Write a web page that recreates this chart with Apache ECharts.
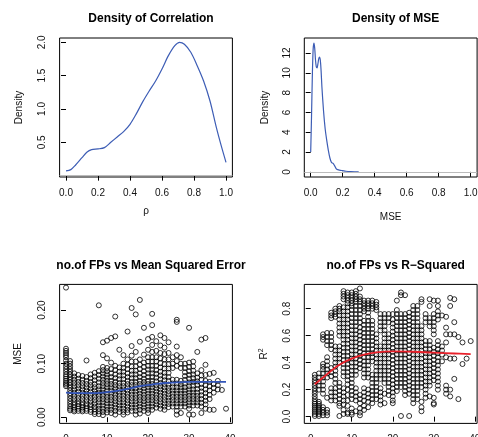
<!DOCTYPE html>
<html>
<head>
<meta charset="utf-8">
<script src="https://cdn.jsdelivr.net/npm/echarts@6/dist/echarts.min.js"></script>
<style>
html,body{margin:0;padding:0;background:#fff;}
#c{width:478px;height:437px;}
</style>
</head>
<body>
<div id="c"></div>
<script>
// ---------- DATA ----------
// Density of correlation (rho)
const rhoX = [0, 0.03, 0.06, 0.1, 0.13, 0.16, 0.2, 0.24, 0.28, 0.32, 0.36, 0.4, 0.44, 0.48, 0.52, 0.56, 0.6, 0.64, 0.68, 0.71, 0.74, 0.78, 0.82, 0.86, 0.9, 0.94, 0.97, 1.0];
const rhoDensity = [0.07, 0.09, 0.16, 0.27, 0.35, 0.39, 0.40, 0.42, 0.50, 0.58, 0.66, 0.77, 0.93, 1.11, 1.27, 1.42, 1.60, 1.80, 1.95, 2.0, 1.97, 1.85, 1.65, 1.42, 1.12, 0.72, 0.45, 0.2];

// Density of MSE
const mseX = [0, 0.005, 0.01, 0.015, 0.02, 0.025, 0.03, 0.035, 0.04, 0.045, 0.05, 0.055, 0.06, 0.065, 0.07, 0.08, 0.09, 0.1, 0.11, 0.12, 0.13, 0.14, 0.15, 0.16, 0.17, 0.18, 0.2, 0.22, 0.25, 0.28, 0.3];
const mseDensity = [2.0, 5.5, 9.5, 12.3, 13.0, 12.5, 11.3, 10.6, 10.5, 10.9, 11.4, 11.6, 11.3, 10.2, 8.6, 6.2, 4.4, 3.2, 2.2, 1.4, 0.95, 0.85, 0.6, 0.3, 0.22, 0.18, 0.12, 0.06, 0.02, 0.005, 0];

// MSE values for each number of FPs (index = no. of FPs)
const mseByFP = [
  [0.242, 0.128, 0.124, 0.120, 0.116, 0.112, 0.106, 0.100, 0.095, 0.090, 0.085, 0.080, 0.076, 0.072, 0.068, 0.064, 0.061, 0.058],
  [0.105, 0.100, 0.095, 0.090, 0.085, 0.080, 0.075, 0.070, 0.065, 0.060, 0.055, 0.050, 0.045, 0.040, 0.035, 0.030, 0.025, 0.020, 0.016, 0.013],
  [0.082, 0.076, 0.070, 0.064, 0.058, 0.052, 0.046, 0.040, 0.034, 0.028, 0.023, 0.018, 0.014, 0.011],
  [0.079, 0.072, 0.066, 0.060, 0.054, 0.048, 0.042, 0.036, 0.030, 0.025, 0.020, 0.016, 0.012],
  [0.077, 0.070, 0.064, 0.058, 0.052, 0.046, 0.040, 0.034, 0.028, 0.023, 0.018, 0.014, 0.011],
  [0.106, 0.075, 0.068, 0.062, 0.056, 0.050, 0.044, 0.038, 0.032, 0.026, 0.021, 0.016, 0.012],
  [0.080, 0.073, 0.066, 0.060, 0.054, 0.048, 0.042, 0.036, 0.030, 0.024, 0.019, 0.014, 0.010],
  [0.083, 0.076, 0.069, 0.062, 0.056, 0.050, 0.044, 0.038, 0.032, 0.026, 0.020, 0.015, 0.010, 0.006],
  [0.209, 0.086, 0.079, 0.072, 0.065, 0.058, 0.052, 0.046, 0.040, 0.034, 0.028, 0.022, 0.016, 0.011, 0.006],
  [0.140, 0.116, 0.094, 0.088, 0.082, 0.076, 0.070, 0.064, 0.058, 0.052, 0.046, 0.040, 0.034, 0.028, 0.022, 0.016, 0.010, 0.004],
  [0.143, 0.110, 0.092, 0.086, 0.080, 0.074, 0.068, 0.062, 0.056, 0.050, 0.044, 0.038, 0.032, 0.026, 0.020, 0.014, 0.009],
  [0.148, 0.102, 0.090, 0.082, 0.075, 0.068, 0.062, 0.056, 0.050, 0.044, 0.038, 0.032, 0.026, 0.020, 0.014, 0.008],
  [0.188, 0.151, 0.096, 0.088, 0.080, 0.073, 0.066, 0.060, 0.054, 0.048, 0.042, 0.036, 0.030, 0.024, 0.018, 0.012, 0.005],
  [0.126, 0.093, 0.085, 0.078, 0.071, 0.064, 0.058, 0.052, 0.046, 0.040, 0.034, 0.028, 0.022, 0.016, 0.010],
  [0.116, 0.100, 0.092, 0.085, 0.078, 0.071, 0.064, 0.058, 0.052, 0.046, 0.040, 0.034, 0.028, 0.022, 0.016, 0.010, 0.005],
  [0.160, 0.108, 0.098, 0.090, 0.082, 0.075, 0.068, 0.062, 0.056, 0.050, 0.044, 0.038, 0.032, 0.026, 0.020, 0.014, 0.009],
  [0.204, 0.133, 0.115, 0.104, 0.095, 0.087, 0.080, 0.073, 0.066, 0.060, 0.054, 0.048, 0.042, 0.036, 0.030, 0.024, 0.018, 0.012],
  [0.192, 0.122, 0.104, 0.095, 0.087, 0.080, 0.073, 0.066, 0.060, 0.054, 0.048, 0.042, 0.036, 0.030, 0.024, 0.018, 0.012, 0.005],
  [0.219, 0.141, 0.108, 0.098, 0.090, 0.082, 0.075, 0.068, 0.062, 0.056, 0.050, 0.044, 0.038, 0.032, 0.026, 0.020, 0.014, 0.007],
  [0.167, 0.117, 0.102, 0.094, 0.086, 0.079, 0.072, 0.066, 0.060, 0.054, 0.048, 0.042, 0.036, 0.030, 0.024, 0.018, 0.012],
  [0.146, 0.126, 0.112, 0.104, 0.096, 0.089, 0.082, 0.075, 0.068, 0.062, 0.056, 0.050, 0.044, 0.038, 0.032, 0.026, 0.020, 0.014, 0.008],
  [0.193, 0.172, 0.150, 0.135, 0.122, 0.112, 0.104, 0.096, 0.089, 0.082, 0.075, 0.068, 0.062, 0.056, 0.050, 0.044, 0.038, 0.032, 0.026, 0.020, 0.014],
  [0.142, 0.124, 0.112, 0.104, 0.096, 0.088, 0.081, 0.074, 0.067, 0.060, 0.054, 0.048, 0.042, 0.036, 0.030, 0.024, 0.018],
  [0.153, 0.134, 0.120, 0.110, 0.101, 0.093, 0.085, 0.078, 0.071, 0.064, 0.058, 0.052, 0.046, 0.040, 0.034, 0.028, 0.022, 0.016],
  [0.148, 0.130, 0.118, 0.108, 0.099, 0.091, 0.083, 0.076, 0.069, 0.062, 0.056, 0.050, 0.044, 0.038, 0.032, 0.026, 0.020, 0.014],
  [0.140, 0.120, 0.108, 0.099, 0.091, 0.083, 0.075, 0.068, 0.061, 0.055, 0.049, 0.043, 0.037, 0.031, 0.025, 0.019],
  [0.112, 0.100, 0.092, 0.070, 0.063, 0.056, 0.050, 0.044, 0.038, 0.032, 0.026, 0.020],
  [0.182, 0.178, 0.132, 0.116, 0.105, 0.096, 0.070, 0.063, 0.056, 0.050, 0.044, 0.038, 0.032, 0.026, 0.020, 0.012, 0.005],
  [0.112, 0.100, 0.092, 0.068, 0.062, 0.056, 0.050, 0.044, 0.038, 0.032, 0.026, 0.020, 0.008],
  [0.100, 0.092, 0.084, 0.077, 0.070, 0.063, 0.056, 0.050, 0.044, 0.038, 0.032, 0.026, 0.020],
  [0.167, 0.102, 0.094, 0.086, 0.079, 0.072, 0.065, 0.058, 0.052, 0.046, 0.040, 0.034, 0.028, 0.022, 0.016, 0.005],
  [0.104, 0.095, 0.087, 0.080, 0.073, 0.066, 0.059, 0.052, 0.046, 0.040, 0.034, 0.028, 0.022, 0.005],
  [0.122, 0.082, 0.074, 0.067, 0.060, 0.053, 0.046, 0.040, 0.034, 0.028, 0.022],
  [0.145, 0.088, 0.078, 0.070, 0.062, 0.055, 0.048, 0.041, 0.034, 0.027, 0.020, 0.008],
  [0.148, 0.098, 0.079, 0.068, 0.060, 0.052, 0.045, 0.038, 0.031, 0.024, 0.016],
  [0.081, 0.066, 0.058, 0.050, 0.042, 0.034, 0.014],
  [0.083, 0.062, 0.055, 0.046, 0.014],
  [0.068, 0.060, 0.052],
  [0.051],
  [0.016]
];

// R-squared values for each number of FPs (index = no. of FPs)
const r2ByFP = [
  [],
  [0.31, 0.29, 0.27, 0.25, 0.23, 0.21, 0.19, 0.17, 0.15, 0.13, 0.11, 0.095, 0.08, 0.065, 0.05, 0.035, 0.02, 0.005],
  [0.32, 0.29, 0.26, 0.23, 0.20, 0.11, 0.095, 0.08, 0.065, 0.05, 0.035, 0.02, 0.005],
  [0.61, 0.59, 0.57, 0.39, 0.37, 0.35, 0.32, 0.29, 0.26, 0.23, 0.20, 0.17, 0.07, 0.05, 0.03, 0.01],
  [0.62, 0.59, 0.56, 0.53, 0.44, 0.41, 0.38, 0.35, 0.32, 0.29, 0.14, 0.05, 0.03, 0.01],
  [0.77, 0.75, 0.73, 0.62, 0.59, 0.56, 0.53, 0.50, 0.36, 0.33, 0.30, 0.21, 0.18, 0.15, 0.12],
  [0.80, 0.78, 0.76, 0.74, 0.52, 0.49, 0.46, 0.43, 0.40, 0.37, 0.34, 0.31, 0.28, 0.25, 0.21, 0.18, 0.15, 0.12],
  [0.82, 0.80, 0.78, 0.75, 0.72, 0.69, 0.66, 0.63, 0.60, 0.52, 0.49, 0.46, 0.43, 0.40, 0.25, 0.22, 0.19, 0.16, 0.13, 0.10, 0.08, 0.005],
  [0.93, 0.91, 0.89, 0.87, 0.81, 0.78, 0.75, 0.72, 0.69, 0.66, 0.63, 0.60, 0.57, 0.54, 0.51, 0.48, 0.45, 0.42, 0.39, 0.36, 0.33, 0.30, 0.21, 0.18, 0.15, 0.12, 0.09, 0.05, 0.02],
  [0.92, 0.90, 0.88, 0.86, 0.84, 0.81, 0.78, 0.75, 0.72, 0.69, 0.66, 0.63, 0.60, 0.57, 0.54, 0.51, 0.48, 0.45, 0.42, 0.39, 0.36, 0.33, 0.30, 0.27, 0.24, 0.20, 0.16, 0.12, 0.08, 0.03, 0.02],
  [0.92, 0.90, 0.88, 0.86, 0.84, 0.82, 0.79, 0.76, 0.73, 0.70, 0.67, 0.64, 0.61, 0.58, 0.55, 0.52, 0.49, 0.46, 0.43, 0.40, 0.37, 0.34, 0.31, 0.28, 0.25, 0.22, 0.19, 0.16, 0.13, 0.06, 0.03, 0.015],
  [0.93, 0.91, 0.89, 0.87, 0.85, 0.82, 0.79, 0.76, 0.73, 0.70, 0.67, 0.64, 0.61, 0.58, 0.55, 0.52, 0.49, 0.46, 0.43, 0.40, 0.37, 0.34, 0.31, 0.21, 0.18, 0.15, 0.12, 0.04],
  [0.95, 0.89, 0.87, 0.85, 0.82, 0.79, 0.76, 0.73, 0.70, 0.66, 0.63, 0.60, 0.57, 0.54, 0.51, 0.48, 0.45, 0.42, 0.39, 0.36, 0.16, 0.13, 0.10, 0.06, 0.03, 0.01],
  [0.86, 0.84, 0.82, 0.80, 0.78, 0.71, 0.68, 0.65, 0.62, 0.59, 0.56, 0.53, 0.50, 0.47, 0.44, 0.41, 0.38, 0.35, 0.32, 0.29, 0.21, 0.18, 0.15, 0.12, 0.08, 0.05],
  [0.86, 0.84, 0.82, 0.80, 0.77, 0.74, 0.71, 0.68, 0.65, 0.62, 0.59, 0.56, 0.53, 0.50, 0.47, 0.44, 0.41, 0.38, 0.35, 0.32, 0.29, 0.20, 0.17, 0.14, 0.11, 0.07],
  [0.86, 0.84, 0.82, 0.80, 0.71, 0.68, 0.65, 0.62, 0.59, 0.56, 0.53, 0.50, 0.47, 0.44, 0.41, 0.31, 0.28, 0.25, 0.22, 0.19, 0.16, 0.13, 0.10],
  [0.85, 0.83, 0.81, 0.79, 0.61, 0.58, 0.55, 0.52, 0.49, 0.46, 0.43, 0.40, 0.37, 0.34, 0.31, 0.28, 0.25, 0.22, 0.19, 0.16, 0.13],
  [0.76, 0.73, 0.70, 0.67, 0.64, 0.52, 0.49, 0.46, 0.43, 0.40, 0.37, 0.34, 0.31, 0.28, 0.21, 0.18, 0.15, 0.12, 0.09],
  [0.76, 0.73, 0.70, 0.67, 0.64, 0.61, 0.58, 0.55, 0.52, 0.49, 0.46, 0.43, 0.40, 0.37, 0.34, 0.31, 0.28, 0.25, 0.17, 0.10],
  [0.76, 0.73, 0.70, 0.61, 0.58, 0.55, 0.52, 0.49, 0.46, 0.43, 0.40, 0.37, 0.34, 0.31, 0.28, 0.25, 0.22, 0.19, 0.16],
  [0.76, 0.72, 0.69, 0.66, 0.63, 0.60, 0.57, 0.54, 0.51, 0.48, 0.45, 0.42, 0.39, 0.36, 0.33, 0.30, 0.27, 0.24, 0.21, 0.18, 0.15, 0.12, 0.10],
  [0.86, 0.79, 0.76, 0.73, 0.70, 0.67, 0.64, 0.61, 0.58, 0.55, 0.52, 0.49, 0.46, 0.43, 0.40, 0.37, 0.34, 0.31, 0.28, 0.25, 0.22, 0.19],
  [0.92, 0.90, 0.76, 0.73, 0.70, 0.67, 0.64, 0.61, 0.58, 0.55, 0.52, 0.49, 0.46, 0.43, 0.40, 0.37, 0.34, 0.31, 0.28, 0.25, 0.22, 0.005],
  [0.90, 0.76, 0.73, 0.70, 0.67, 0.64, 0.61, 0.58, 0.55, 0.52, 0.49, 0.46, 0.43, 0.40, 0.37, 0.34, 0.31, 0.28, 0.25, 0.22, 0.19, 0.16],
  [0.77, 0.74, 0.71, 0.68, 0.65, 0.62, 0.59, 0.56, 0.53, 0.50, 0.47, 0.44, 0.41, 0.38, 0.35, 0.32, 0.29, 0.26, 0.23, 0.20, 0.17, 0.005],
  [0.82, 0.79, 0.76, 0.73, 0.70, 0.67, 0.64, 0.61, 0.58, 0.55, 0.52, 0.49, 0.46, 0.43, 0.40, 0.37, 0.34, 0.31, 0.28, 0.25, 0.22, 0.19, 0.16, 0.13, 0.10],
  [0.82, 0.79, 0.76, 0.73, 0.70, 0.67, 0.64, 0.61, 0.58, 0.55, 0.52, 0.49, 0.46, 0.43, 0.40, 0.37, 0.34, 0.31, 0.28, 0.25, 0.22, 0.19, 0.16, 0.13],
  [0.87, 0.85, 0.67, 0.64, 0.61, 0.58, 0.55, 0.52, 0.49, 0.46, 0.43, 0.40, 0.37, 0.34, 0.31, 0.28, 0.25, 0.22, 0.11, 0.07, 0.04],
  [0.76, 0.73, 0.70, 0.56, 0.53, 0.50, 0.47, 0.44, 0.41, 0.38, 0.35, 0.32, 0.29, 0.26, 0.23, 0.20, 0.17, 0.14],
  [0.87, 0.82, 0.73, 0.70, 0.67, 0.56, 0.53, 0.50, 0.47, 0.44, 0.41, 0.38, 0.35, 0.32, 0.29, 0.26, 0.23, 0.15],
  [0.86, 0.76, 0.73, 0.70, 0.67, 0.64, 0.61, 0.51, 0.48, 0.45, 0.42, 0.39, 0.36, 0.33, 0.30, 0.27, 0.14, 0.10, 0.09],
  [0.86, 0.82, 0.78, 0.75, 0.72, 0.56, 0.53, 0.50, 0.47, 0.44, 0.41, 0.38, 0.35, 0.32, 0.29, 0.26, 0.23, 0.20],
  [0.75, 0.52, 0.49, 0.46, 0.41],
  [0.74, 0.66, 0.61, 0.55, 0.44, 0.23, 0.20, 0.17],
  [0.88, 0.82, 0.61, 0.43, 0.20, 0.15],
  [0.87, 0.70, 0.61, 0.43, 0.28],
  [0.59, 0.13],
  [0.55, 0.39],
  [0.43],
  [0.56]
];

// Smoothed fits
const mseFitX = [0, 3, 6, 9, 12, 15, 18, 21, 24, 27, 30, 33, 36, 39];
const mseFitY = [0.046, 0.045, 0.045, 0.046, 0.049, 0.053, 0.058, 0.061, 0.064, 0.065, 0.066, 0.066, 0.066, 0.066];
const r2FitX = [1, 3, 5, 7, 10, 13, 16, 20, 25, 30, 35, 39];
const r2FitY = [0.24, 0.29, 0.34, 0.385, 0.43, 0.46, 0.476, 0.484, 0.481, 0.474, 0.468, 0.464];

// Tick values
const unitTicks = [0, 0.2, 0.4, 0.6, 0.8, 1.0];
const rhoDensityTicks = [0.5, 1.0, 1.5, 2.0];
const mseDensityTicks = [0, 2, 4, 6, 8, 10, 12];
const fpTicks = [0, 10, 20, 30, 40];
const mseScatterTicks = [0, 0.1, 0.2];
const r2Ticks = [0, 0.2, 0.4, 0.6, 0.8];

// ---------- CHART ----------
const FONT = '"Liberation Sans", Arial, Helvetica, sans-serif';
const chart = echarts.init(document.getElementById('c'), null, {renderer: 'canvas'});

const zip = (xs, ys) => xs.map((x, i) => [x, ys[i]]);
const columnsToPoints = cols => {
  const out = [];
  cols.forEach((ys, k) => ys.forEach(y => out.push([k, y])));
  return out;
};

const grids = [
  {left: 59.6, top: 38, width: 172.8, height: 139},
  {left: 304.3, top: 38, width: 172.8, height: 139},
  {left: 59.6, top: 284.4, width: 172.8, height: 139},
  {left: 304.3, top: 284.4, width: 172.8, height: 139}
].map(g => Object.assign(g, {show: true, borderColor: '#000', borderWidth: 1, backgroundColor: 'transparent', containLabel: false, outerBoundsMode: 'none'}));

function xAxis(gi, min, max, ticks, fmt, name, nameGap) {
  return {
    type: 'value', gridIndex: gi, min, max,
    axisLine: {show: false},
    splitLine: {show: false},
    axisTick: {show: true, inside: false, length: 5, customValues: ticks, lineStyle: {color: '#000', width: 1}},
    axisLabel: {show: true, customValues: ticks, formatter: fmt, margin: 11, color: '#111', fontFamily: FONT, fontSize: 10, showMinLabel: true, showMaxLabel: true},
    name, nameLocation: 'middle', nameGap,
    nameTextStyle: {color: '#111', fontFamily: FONT, fontSize: 10}
  };
}
function yAxis(gi, min, max, ticks, fmt, name, nameGap, rich) {
  const a = {
    type: 'value', gridIndex: gi, min, max,
    axisLine: {show: false},
    splitLine: {show: false},
    axisTick: {show: true, inside: false, length: 5, customValues: ticks, lineStyle: {color: '#000', width: 1}},
    axisLabel: {show: true, customValues: ticks, formatter: fmt, rotate: 90, margin: 12, color: '#111', fontFamily: FONT, fontSize: 10, showMinLabel: true, showMaxLabel: true},
    name, nameLocation: 'middle', nameGap, nameRotate: 90,
    nameTextStyle: {color: '#111', fontFamily: FONT, fontSize: 10}
  };
  if (rich) a.nameTextStyle.rich = rich;
  return a;
}

const f1 = v => v.toFixed(1);
const f2 = v => v.toFixed(2);
const f0 = v => String(Math.round(v));

const titleStyle = {color: '#000', fontFamily: FONT, fontSize: 12, fontWeight: 'bold'};

const option = {
  animation: false,
  backgroundColor: '#fff',
  title: [
    {text: 'Density of Correlation', left: 146, top: 8, textAlign: 'center', textStyle: titleStyle},
    {text: 'Density of MSE', left: 390.7, top: 8, textAlign: 'center', textStyle: titleStyle},
    {text: 'no.of FPs vs Mean Squared Error', left: 146, top: 254.5, textAlign: 'center', textStyle: titleStyle},
    {text: 'no.of FPs vs R\u2212Squared', left: 390.7, top: 254.5, textAlign: 'center', textStyle: titleStyle}
  ],
  grid: grids,
  xAxis: [
    xAxis(0, -0.04, 1.04, unitTicks, f1, '\u03c1', 29),
    xAxis(1, -0.04, 1.04, unitTicks, f1, 'MSE', 35),
    xAxis(2, -1.56, 40.56, fpTicks, f0, '', 28),
    xAxis(3, -1.56, 40.56, fpTicks, f0, '', 28)
  ],
  yAxis: [
    yAxis(0, -0.0205, 2.0645, rhoDensityTicks, f1, 'Density', 35),
    yAxis(1, -0.52, 13.52, mseDensityTicks, f0, 'Density', 34),
    yAxis(2, -0.0114, 0.248, mseScatterTicks, f2, 'MSE', 36),
    yAxis(3, -0.05, 0.98, r2Ticks, f1, 'R{sup|2}', 34, {sup: {fontSize: 7, fontFamily: FONT, color: '#111', verticalAlign: 'top', padding: [0, 0, 6, 0]}})
  ],
  series: [
    {
      type: 'line', xAxisIndex: 0, yAxisIndex: 0, data: zip(rhoX, rhoDensity),
      smooth: 0.3, showSymbol: false, lineStyle: {color: '#3d5db5', width: 1.2},
      markLine: {silent: true, symbol: 'none', label: {show: false}, lineStyle: {color: '#bbbbbb', width: 1, type: 'solid'}, data: [{yAxis: 0}]}
    },
    {
      type: 'line', xAxisIndex: 1, yAxisIndex: 1, data: zip(mseX, mseDensity),
      smooth: 0.3, showSymbol: false, lineStyle: {color: '#3d5db5', width: 1.2}, z: 3,
      markLine: {silent: true, symbol: 'none', label: {show: false}, lineStyle: {color: '#bbbbbb', width: 1, type: 'solid'}, data: [{yAxis: 0}]}
    },
    {
      type: 'scatter', xAxisIndex: 2, yAxisIndex: 2, data: columnsToPoints(mseByFP),
      symbol: 'circle', symbolSize: 5, large: false, progressive: 0,
      itemStyle: {color: 'rgba(0,0,0,0)', borderColor: '#000', borderWidth: 1}
    },
    {
      type: 'line', xAxisIndex: 2, yAxisIndex: 2, data: zip(mseFitX, mseFitY),
      smooth: 0.4, showSymbol: false, z: 5, lineStyle: {color: '#3355b8', width: 1.8}
    },
    {
      type: 'scatter', xAxisIndex: 3, yAxisIndex: 3, data: columnsToPoints(r2ByFP),
      symbol: 'circle', symbolSize: 5, large: false, progressive: 0,
      itemStyle: {color: 'rgba(0,0,0,0)', borderColor: '#000', borderWidth: 1}
    },
    {
      type: 'line', xAxisIndex: 3, yAxisIndex: 3, data: zip(r2FitX, r2FitY),
      smooth: 0.4, showSymbol: false, z: 5, lineStyle: {color: '#e8202a', width: 1.8}
    }
  ]
};
chart.setOption(option);
</script>
</body>
</html>
